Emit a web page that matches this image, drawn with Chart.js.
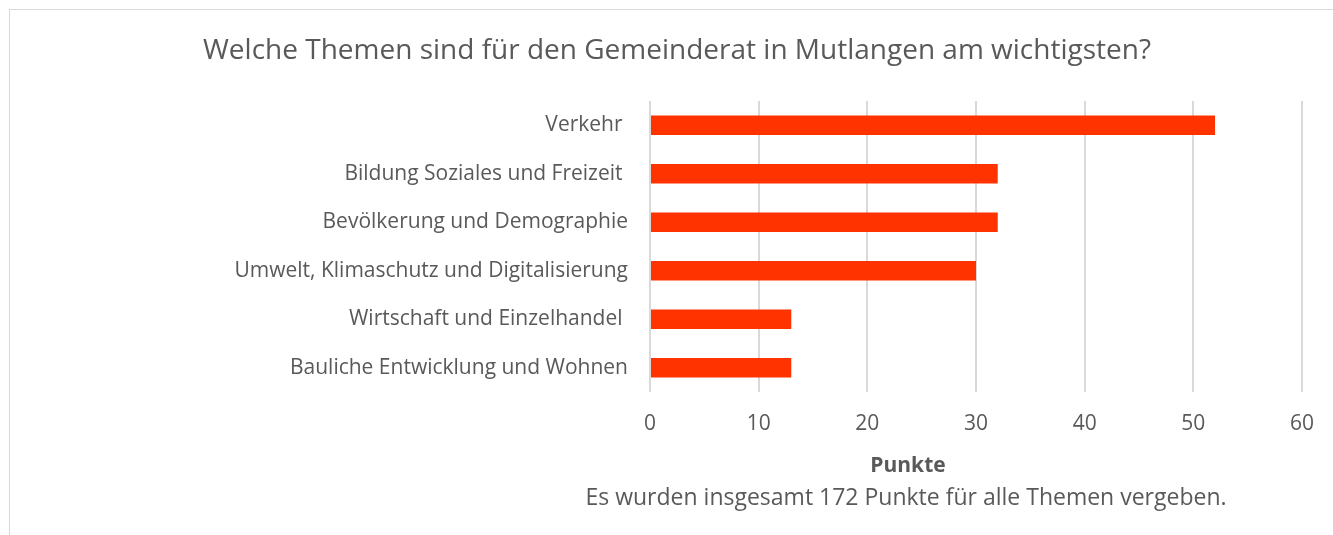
<!DOCTYPE html>
<html>
<head>
<meta charset="utf-8">
<script src="https://cdn.jsdelivr.net/npm/chart.js@4/dist/chart.umd.min.js"></script>
<style>
html,body{margin:0;padding:0;background:#fff;}
#wrap{position:relative;width:1333px;height:535px;}
</style>
</head>
<body>
<div id="wrap"><canvas id="c" width="1333" height="535"></canvas></div>
<script>
const titleText = "Welche Themen sind für den Gemeinderat in Mutlangen am wichtigsten?";
const axisTitle = "Punkte";
const noteText = "Es wurden insgesamt 172 Punkte für alle Themen vergeben.";
const categories = [
  "Verkehr ",
  "Bildung Soziales und Freizeit ",
  "Bevölkerung und Demographie",
  "Umwelt, Klimaschutz und Digitalisierung",
  "Wirtschaft und Einzelhandel ",
  "Bauliche Entwicklung und Wohnen"
];
const points = [52, 32, 32, 30, 13, 13];
const xMin = 0, xMax = 60, xStep = 10;

const FONT = "'Open Sans', 'DejaVu Sans', sans-serif";
const TEXT = "#595959";

const decor = {
  id: 'decor',
  beforeDraw(chart) {
    const ctx = chart.ctx;
    ctx.save();
    ctx.fillStyle = '#fff';
    ctx.fillRect(0, 0, chart.width, chart.height);
    ctx.strokeStyle = '#d9d9d9';
    ctx.lineWidth = 1;
    ctx.strokeRect(9.5, 9.5, 1400, 700);
    ctx.restore();
  },
  afterDraw(chart) {
    const ctx = chart.ctx;
    ctx.save();
    ctx.fillStyle = TEXT;
    ctx.textAlign = 'center';
    ctx.textBaseline = 'middle';
    ctx.font = "28px " + FONT;
    ctx.fillText(titleText, 677, 51);
    ctx.font = "bold 21px " + FONT;
    ctx.fillText(axisTitle, 908, 466);
    ctx.font = "23px " + FONT;
    ctx.fillText(noteText, 906, 498);
    ctx.restore();
  }
};

new Chart(document.getElementById('c'), {
  type: 'bar',
  data: {
    labels: categories,
    datasets: [{
      data: points,
      backgroundColor: '#ff3300',
      borderWidth: 0,
      categoryPercentage: 1,
      barPercentage: 0.4
    }]
  },
  options: {
    indexAxis: 'y',
    responsive: false,
    animation: false,
    layout: { padding: { left: 0, right: 31, top: 101, bottom: 100 } },
    plugins: { legend: { display: false }, tooltip: { enabled: false } },
    scales: {
      x: {
        min: xMin, max: xMax,
        ticks: { stepSize: xStep, color: TEXT, font: { family: FONT, size: 21 }, padding: 19 },
        grid: { color: '#d9d9d9', lineWidth: 2, drawTicks: false },
        border: { display: false },
        afterFit(scale) { scale.height = 43; }
      },
      y: {
        ticks: { color: TEXT, font: { family: FONT, size: 21 }, padding: 22, autoSkip: false },
        grid: { display: false, drawTicks: false },
        border: { display: false },
        afterFit(scale) { scale.width = 650; }
      }
    }
  },
  plugins: [decor]
});
</script>
</body>
</html>
